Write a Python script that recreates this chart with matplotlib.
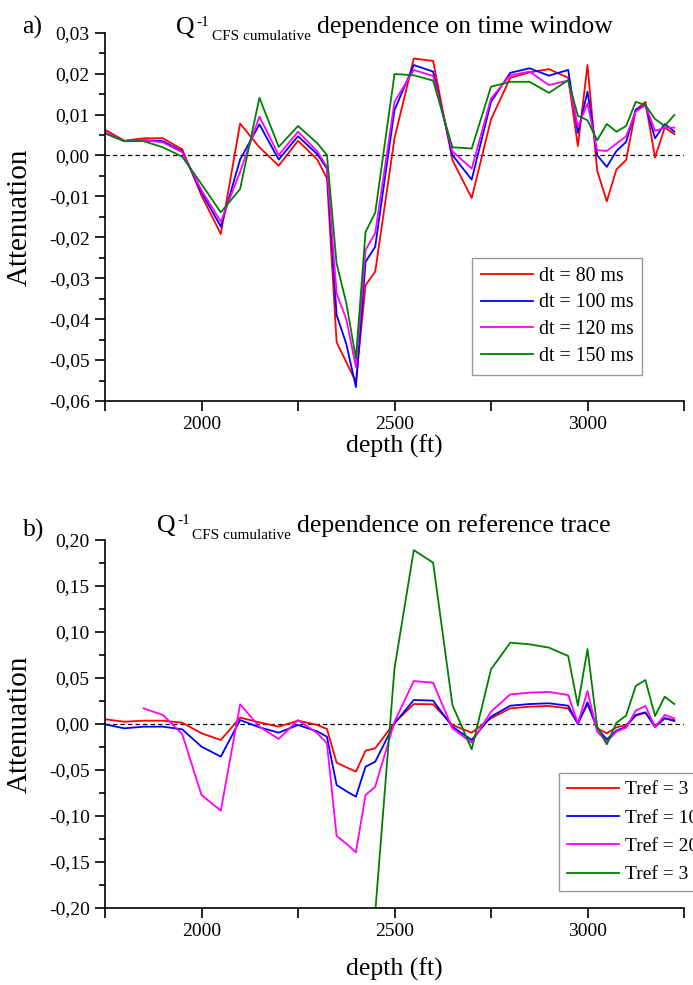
import numpy as np
import matplotlib
matplotlib.use("Agg")
import matplotlib.pyplot as plt
from matplotlib.ticker import MultipleLocator, FuncFormatter

plt.rcParams['font.family'] = ['Liberation Serif', 'DejaVu Serif']

# depth samples (ft)
depth = [1750, 1800, 1850, 1900, 1950, 2000, 2050, 2100, 2150, 2200, 2250, 2300, 2325,
         2350, 2375, 2400, 2425, 2450, 2500, 2550, 2600, 2650, 2700, 2750, 2800, 2850,
         2900, 2950, 2975, 3000, 3025, 3050, 3075, 3100, 3125, 3150, 3175, 3200, 3225]

# a) time window
dt80 = [0.0063, 0.0036, 0.0042, 0.0042, 0.0015, -0.0098, -0.0192, 0.0078, 0.0020, -0.0025,
        0.0036, -0.0010, -0.0056, -0.0456, -0.0505, -0.0553, -0.0317, -0.0284, 0.0042, 0.0237,
        0.0231, -0.0011, -0.0104, 0.0088, 0.0190, 0.0203, 0.0211, 0.0190, 0.0023, 0.0221,
        -0.0037, -0.0112, -0.0034, -0.0011, 0.0111, 0.0131, -0.0005, 0.0068, 0.0052]
dt100 = [0.0055, 0.0035, 0.0037, 0.0035, 0.0010, -0.0090, -0.0174, -0.0010, 0.0076, -0.0010,
         0.0047, 0.0003, -0.0032, -0.0390, -0.0460, -0.0566, -0.0260, -0.0223, 0.0111, 0.0221,
         0.0205, 0.0001, -0.0059, 0.0131, 0.0202, 0.0213, 0.0195, 0.0209, 0.0055, 0.0156,
         0.0001, -0.0028, 0.0011, 0.0033, 0.0112, 0.0123, 0.0042, 0.0077, 0.0058]
dt120 = [0.0057, 0.0035, 0.0037, 0.0032, 0.0008, -0.0085, -0.0162, -0.0040, 0.0095, 0.0001,
         0.0058, 0.0010, -0.0028, -0.0337, -0.0400, -0.0517, -0.0231, -0.0190, 0.0131, 0.0209,
         0.0194, 0.0010, -0.0032, 0.0139, 0.0196, 0.0205, 0.0172, 0.0183, 0.0070, 0.0127,
         0.0013, 0.0011, 0.0029, 0.0047, 0.0107, 0.0123, 0.0060, 0.0068, 0.0068]
dt150 = [0.0054, 0.0035, 0.0035, 0.0020, -0.0003, -0.0070, -0.0139, -0.0082, 0.0141, 0.0021,
         0.0072, 0.0030, 0.0001, -0.0264, -0.0360, -0.0496, -0.0187, -0.0140, 0.0199, 0.0196,
         0.0183, 0.0020, 0.0017, 0.0168, 0.0180, 0.0180, 0.0153, 0.0184, 0.0097, 0.0086,
         0.0037, 0.0077, 0.0058, 0.0072, 0.0131, 0.0123, 0.0089, 0.0072, 0.0099]

# b) reference trace
tref1 = [0.0051, 0.0025, 0.0036, 0.0036, 0.0014, -0.0101, -0.0174, 0.0069, 0.0018, -0.0029,
         0.0036, -0.0010, -0.0054, -0.0420, -0.0470, -0.0518, -0.0290, -0.0264, 0.0014, 0.0217,
         0.0214, -0.0011, -0.0094, 0.0062, 0.0170, 0.0188, 0.0196, 0.0170, 0.0007, 0.0214,
         -0.0047, -0.0101, -0.0036, -0.0011, 0.0091, 0.0123, -0.0018, 0.0062, 0.0043]
tref2 = [-0.0004, -0.0047, -0.0029, -0.0029, -0.0058, -0.0246, -0.0355, 0.0043, -0.0036, -0.0094,
         -0.0011, -0.0080, -0.0138, -0.0663, -0.0730, -0.0790, -0.0464, -0.0410, 0.0007, 0.0261,
         0.0254, -0.0029, -0.0174, 0.0080, 0.0199, 0.0217, 0.0225, 0.0199, 0.0000, 0.0236,
         -0.0047, -0.0167, -0.0072, -0.0029, 0.0098, 0.0127, -0.0036, 0.0062, 0.0033]
tref3 = [np.nan, np.nan, 0.0170, 0.0098, -0.0109, -0.0772, -0.0942, 0.0214, -0.0029, -0.0163,
         0.0043, -0.0100, -0.0210, -0.1217, -0.1300, -0.1395, -0.0772, -0.0681, 0.0025, 0.0467,
         0.0449, -0.0047, -0.0203, 0.0134, 0.0322, 0.0341, 0.0348, 0.0315, 0.0007, 0.0359,
         -0.0083, -0.0192, -0.0083, -0.0040, 0.0145, 0.0196, -0.0036, 0.0098, 0.0062]
tref4 = [np.nan] * 17 + [-0.205, 0.0605, 0.1890, 0.1754, 0.0207, -0.0275, 0.0594, 0.0884, 0.0866,
         0.0830, 0.0739, 0.0199, 0.0815, -0.0029, -0.0221, 0.0014, 0.0091, 0.0413, 0.0478,
         0.0087, 0.0297, 0.0217]

labels_a = ["dt = 80 ms", "dt = 100 ms", "dt = 120 ms", "dt = 150 ms"]
labels_b = ["Tref = 3 ms", "Tref = 10 ms", "Tref = 20 ms", "Tref = 3 s"]
colors = ["#ff0000", "#0000ff", "#ff00ff", "#008000"]

W, H = 693, 985
fig = plt.figure(figsize=(W / 100, H / 100), dpi=100)


def comma(v, pos):
    return f"{v:.2f}".replace(".", ",")


def setup(ax, ylim, major, minor):
    ax.set_xlim(1750, 3250)
    ax.set_ylim(*ylim)
    for s in ["top", "right"]:
        ax.spines[s].set_visible(False)
    for s in ["left", "bottom"]:
        ax.spines[s].set_linewidth(1.2)
    ax.xaxis.set_major_locator(MultipleLocator(250))
    ax.xaxis.set_major_formatter(FuncFormatter(lambda v, p: f"{v:.0f}" if v % 500 == 0 and 1750 < v < 3250 else ""))
    ax.yaxis.set_major_locator(MultipleLocator(major))
    ax.yaxis.set_minor_locator(MultipleLocator(minor))
    ax.yaxis.set_major_formatter(FuncFormatter(comma))
    ax.tick_params(which="major", direction="out", length=7, width=1.2, labelsize=14, pad=4)
    ax.tick_params(which="minor", direction="out", length=4, width=1.2)
    ax.axhline(0, color="black", lw=0.9, ls=(0, (3.5, 2.5)), zorder=1)
    ax.set_ylabel("Attenuation", fontsize=21)
    ax.yaxis.set_label_coords(-0.124, 0.5)


# top panel
ax1 = fig.add_axes([105 / W, 1 - 401 / H, 579 / W, 368.3 / H])
for y, c, lab in zip([dt80, dt100, dt120, dt150], colors, labels_a):
    ax1.plot(depth, y, color=c, lw=1.3, label=lab)
setup(ax1, (-0.06, 0.03), 0.01, 0.005)
ax1.set_xlabel("depth (ft)", fontsize=18.5)
ax1.xaxis.set_label_coords(0.5, -0.09)
ax1.legend(loc="upper left", bbox_to_anchor=(472 / W, 1 - 258 / H), bbox_transform=fig.transFigure,
           fontsize=14.3, frameon=True, fancybox=False, edgecolor="#808080", borderaxespad=0,
           handlelength=2.6, handletextpad=0.3, labelspacing=0.38, borderpad=0.45)

# bottom panel
ax2 = fig.add_axes([105 / W, 1 - 908 / H, 579 / W, 368 / H])
for y, c, lab in zip([tref1, tref2, tref3, tref4], colors, labels_b):
    ax2.plot(depth, y, color=c, lw=1.3, label=lab)
setup(ax2, (-0.20, 0.20), 0.05, 0.025)
ax2.set_xlabel("depth (ft)", fontsize=18.5)
ax2.xaxis.set_label_coords(0.5, -0.135)
ax2.legend(loc="upper left", bbox_to_anchor=(559 / W, 1 - 773 / H), bbox_transform=fig.transFigure,
           fontsize=14, frameon=True, fancybox=False, edgecolor="#808080", borderaxespad=0,
           handlelength=2.7, handletextpad=0.3, labelspacing=0.55, borderpad=0.4)


# panel labels and titles, built from pieces: Q, superscript -1, subscript, rest
def title(x_q, x_sup, x_sub, x_rest, base, rest):
    fig.text(x_q / W, 1 - base / H, "Q", fontsize=18.5, va="baseline")
    fig.text(x_sup / W, 1 - (base - 8) / H, "-1", fontsize=11, va="baseline")
    fig.text(x_sub / W, 1 - (base + 7) / H, "CFS cumulative", fontsize=11, va="baseline")
    fig.text(x_rest / W, 1 - base / H, rest, fontsize=18.5, va="baseline")


fig.text(22 / W, 1 - 34 / H, "a)", fontsize=18.5, va="baseline")
title(176, 196, 212, 317, 33.5, "dependence on time window")
fig.text(23 / W, 1 - 537 / H, "b)", fontsize=18.5, va="baseline")
title(157, 177, 192, 297, 532, "dependence on reference trace")

fig.savefig("out.png", dpi=100)
plt.close(fig)
